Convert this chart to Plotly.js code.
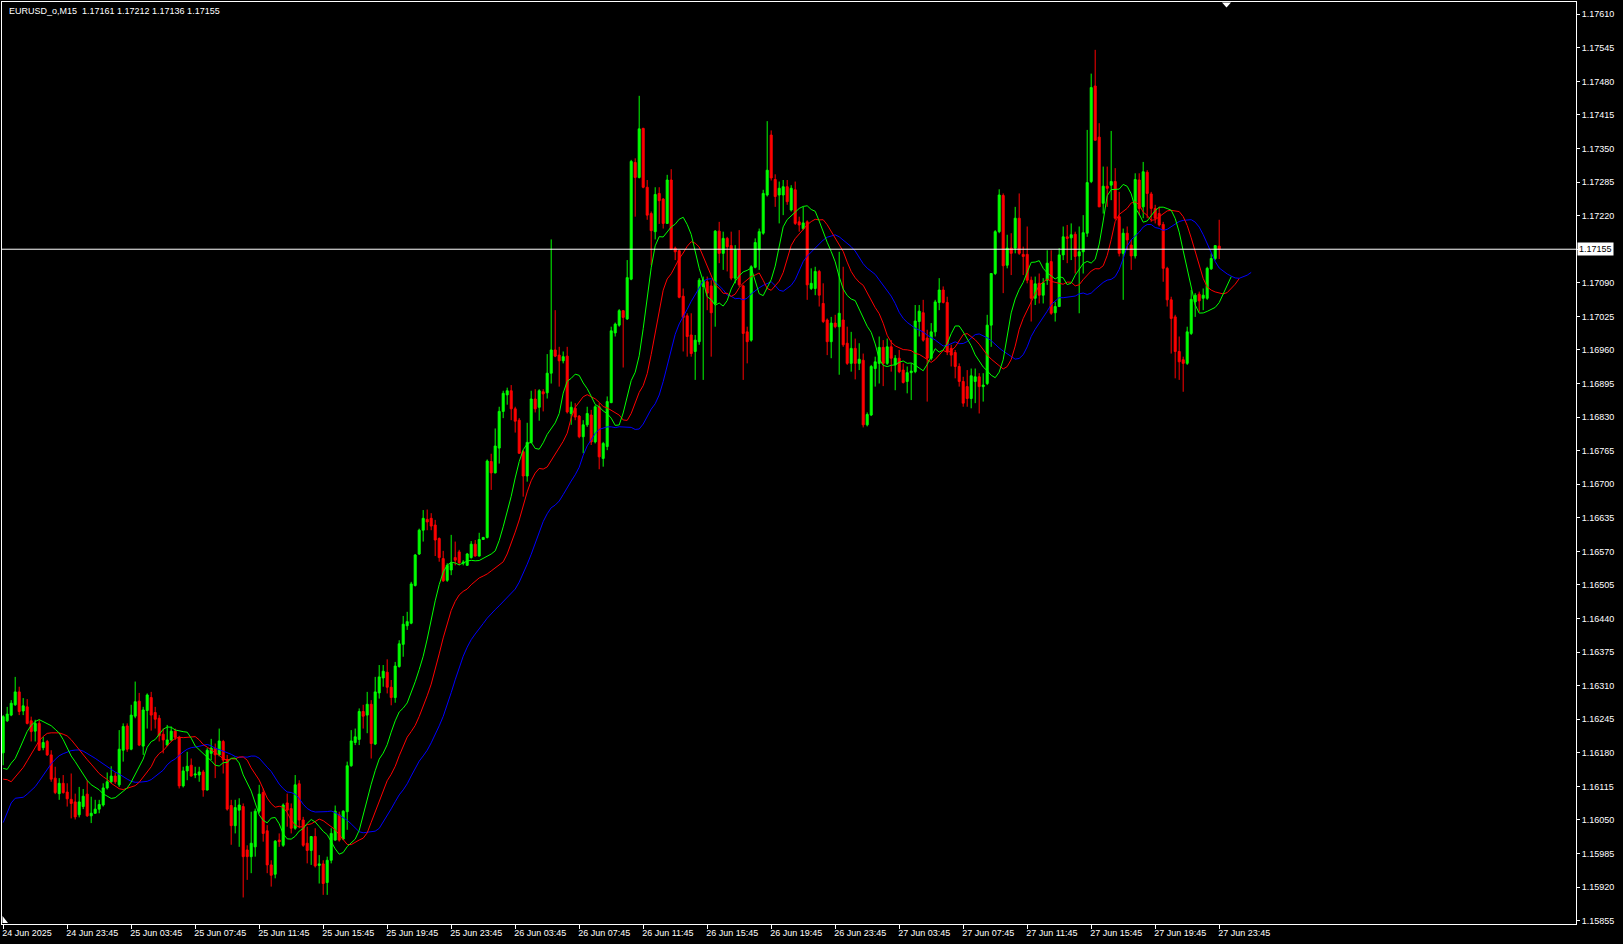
<!DOCTYPE html>
<html>
<head>
<meta charset="utf-8">
<script src="https://cdn.plot.ly/plotly-3.0.1.min.js"></script>
<style>
  html, body { margin:0; padding:0; background:#000; }
  #chart { width:1623px; height:944px; }
</style>
</head>
<body>
<div id="chart"></div>
<script>
// ---- Data (EURUSD M15, bars from 24 Jun 2025 19:45 to 27 Jun 2025 23:45) ----
const symbolTitle = "EURUSD_o,M15\u00A0 1.17161 1.17212 1.17136 1.17155";

const open = [
1.16180,1.16242,1.16253,1.16273,1.16298,1.16261,1.16269,1.16242,1.16222,1.16237,
1.16190,1.16202,1.16176,1.16131,1.16101,1.16121,1.16104,1.16090,1.16085,1.16060,
1.16076,1.16100,1.16058,1.16063,1.16071,1.16079,1.16112,1.16124,1.16135,1.16118,
1.16185,1.16232,1.16187,1.16251,1.16280,1.16193,1.16262,1.16287,1.16258,1.16247,
1.16216,1.16195,1.16205,1.16222,1.16210,1.16116,1.16145,1.16156,1.16137,1.16137,
1.16143,1.16108,1.16179,1.16189,1.16176,1.16202,1.16167,1.16078,1.16039,1.16069,
1.16076,1.15992,1.15979,1.15998,1.16067,1.16103,1.16029,1.15963,1.15945,1.16011,
1.16001,1.16083,1.16072,1.16034,1.16120,1.16050,1.16005,1.15991,1.16018,1.15962,
1.15965,1.15929,1.15972,1.16011,1.16060,1.16013,1.16066,1.16155,1.16200,1.16206,
1.16260,1.16253,1.16274,1.16197,1.16296,1.16325,1.16336,1.16307,1.16287,1.16347,
1.16390,1.16426,1.16431,1.16504,1.16565,1.16611,1.16632,1.16634,1.16621,1.16595,
1.16556,1.16514,1.16534,1.16558,1.16569,1.16547,1.16543,1.16558,1.16584,1.16561,
1.16593,1.16597,1.16744,1.16722,1.16770,1.16841,1.16873,1.16881,1.16846,1.16824,
1.16763,1.16716,1.16781,1.16865,1.16849,1.16879,1.16877,1.16915,1.16960,1.16950,
1.16939,1.16948,1.16837,1.16847,1.16832,1.16792,1.16815,1.16834,1.16782,1.16850,
1.16750,1.16773,1.16858,1.16993,1.17008,1.17036,1.17020,1.17097,1.17323,1.17294,
1.17389,1.17275,1.17224,1.17189,1.17263,1.17252,1.17205,1.17289,1.17157,1.17152,
1.17064,1.17026,1.16989,1.16957,1.16976,1.17083,1.17092,1.17084,1.17050,1.17190,
1.17147,1.17176,1.17162,1.17099,1.17154,1.17084,1.16995,1.16979,1.17120,1.17154,
1.17186,1.17260,1.17376,1.17290,1.17260,1.17260,1.17276,1.17231,1.17270,1.17208,
1.17195,1.17208,1.17079,1.17079,1.17112,1.17050,1.17018,1.16976,1.17012,1.17005,
1.17018,1.16973,1.16934,1.16963,1.16934,1.16940,1.16815,1.16834,1.16924,1.16934,
1.16965,1.16934,1.16966,1.16931,1.16944,1.16921,1.16899,1.16916,1.16918,1.17015,
1.17032,1.16983,1.16944,1.16995,1.17052,1.17076,1.17052,1.16963,1.16955,1.16928,
1.16899,1.16889,1.16866,1.16899,1.16908,1.16889,1.16895,1.17008,1.17108,1.17189,
1.17259,1.17124,1.17157,1.17157,1.17215,1.17145,1.17145,1.17095,1.17060,1.17089,
1.17066,1.17095,1.17131,1.17032,1.17044,1.17144,1.17179,1.17177,1.17184,1.17142,
1.17150,1.17186,1.17286,1.17471,1.17372,1.17244,1.17277,1.17279,1.17286,1.17218,
1.17147,1.17186,1.17163,1.17142,1.17289,1.17237,1.17304,1.17262,1.17234,1.17224,
1.17203,1.17118,1.17057,1.17024,1.16957,1.16941,1.16934,1.16992,1.17053,1.17068,
1.17060,1.17060,1.17117,1.17137,1.17161
];

const high = [
1.16253,1.16269,1.16282,1.16327,1.16308,1.16286,1.16284,1.16250,1.16244,1.16244,
1.16211,1.16205,1.16185,1.16153,1.16131,1.16137,1.16121,1.16140,1.16101,1.16114,
1.16110,1.16127,1.16095,1.16089,1.16089,1.16121,1.16142,1.16154,1.16142,1.16224,
1.16237,1.16237,1.16273,1.16318,1.16296,1.16269,1.16295,1.16298,1.16269,1.16253,
1.16227,1.16234,1.16231,1.16227,1.16213,1.16153,1.16182,1.16169,1.16153,1.16153,
1.16147,1.16189,1.16207,1.16198,1.16227,1.16205,1.16176,1.16089,1.16089,1.16092,
1.16082,1.16001,1.16066,1.16072,1.16118,1.16111,1.16040,1.15972,1.16011,1.16024,
1.16082,1.16101,1.16082,1.16137,1.16127,1.16056,1.16037,1.16019,1.16034,1.15982,
1.15972,1.15979,1.16034,1.16078,1.16066,1.16069,1.16163,1.16224,1.16227,1.16266,
1.16273,1.16298,1.16282,1.16327,1.16350,1.16350,1.16361,1.16321,1.16356,1.16398,
1.16445,1.16453,1.16511,1.16565,1.16614,1.16650,1.16651,1.16644,1.16631,1.16597,
1.16571,1.16547,1.16602,1.16589,1.16573,1.16553,1.16567,1.16590,1.16592,1.16606,
1.16598,1.16748,1.16759,1.16808,1.16850,1.16881,1.16887,1.16892,1.16850,1.16828,
1.16766,1.16819,1.16881,1.16884,1.16884,1.16884,1.16952,1.17174,1.17037,1.16966,
1.16957,1.16966,1.16860,1.16857,1.16834,1.16824,1.16850,1.16844,1.16853,1.16857,
1.16782,1.16870,1.17005,1.17013,1.17039,1.17037,1.17134,1.17328,1.17331,1.17452,
1.17390,1.17289,1.17228,1.17275,1.17275,1.17254,1.17299,1.17310,1.17160,1.17154,
1.17079,1.17031,1.17031,1.16989,1.17099,1.17102,1.17102,1.17095,1.17192,1.17208,
1.17189,1.17179,1.17189,1.17163,1.17192,1.17086,1.17005,1.17124,1.17176,1.17195,
1.17270,1.17403,1.17385,1.17300,1.17286,1.17289,1.17289,1.17279,1.17286,1.17218,
1.17237,1.17211,1.17118,1.17121,1.17115,1.17089,1.17021,1.17024,1.17028,1.17150,
1.17121,1.17005,1.16995,1.16982,1.16973,1.16953,1.16839,1.16931,1.16947,1.16986,
1.16979,1.16982,1.16979,1.16950,1.16960,1.16934,1.16928,1.16934,1.17047,1.17047,
1.17057,1.16999,1.17012,1.17057,1.17099,1.17083,1.17063,1.16970,1.16960,1.16934,
1.16908,1.16921,1.16924,1.16924,1.16915,1.16915,1.17028,1.17108,1.17192,1.17271,
1.17263,1.17183,1.17186,1.17237,1.17263,1.17160,1.17199,1.17102,1.17102,1.17108,
1.17099,1.17153,1.17153,1.17053,1.17157,1.17199,1.17202,1.17205,1.17189,1.17199,
1.17221,1.17386,1.17495,1.17541,1.17399,1.17315,1.17315,1.17384,1.17312,1.17266,
1.17195,1.17199,1.17173,1.17302,1.17302,1.17324,1.17308,1.17266,1.17241,1.17237,
1.17208,1.17121,1.17063,1.17028,1.16986,1.16947,1.17005,1.17076,1.17070,1.17073,
1.17079,1.17121,1.17147,1.17163,1.17212
];

const low = [
1.16156,1.16240,1.16251,1.16271,1.16253,1.16253,1.16235,1.16202,1.16202,1.16184,
1.16185,1.16174,1.16124,1.16100,1.16089,1.16101,1.16076,1.16053,1.16051,1.16055,
1.16071,1.16056,1.16044,1.16062,1.16063,1.16076,1.16109,1.16121,1.16120,1.16114,
1.16163,1.16182,1.16185,1.16247,1.16193,1.16176,1.16227,1.16223,1.16227,1.16202,
1.16179,1.16193,1.16202,1.16205,1.16111,1.16113,1.16127,1.16134,1.16131,1.16124,
1.16095,1.16107,1.16166,1.16131,1.16173,1.16140,1.16068,1.16002,1.16024,1.15998,
1.15900,1.15934,1.15947,1.15979,1.16063,1.16008,1.15947,1.15921,1.15937,1.15998,
1.15998,1.16037,1.16024,1.16031,1.16034,1.15998,1.15966,1.15963,1.15958,1.15927,
1.15905,1.15905,1.15966,1.16010,1.16008,1.16011,1.16031,1.16153,1.16195,1.16195,
1.16227,1.16218,1.16169,1.16195,1.16285,1.16308,1.16295,1.16272,1.16277,1.16345,
1.16366,1.16418,1.16429,1.16502,1.16563,1.16589,1.16611,1.16611,1.16561,1.16550,
1.16511,1.16511,1.16524,1.16543,1.16543,1.16543,1.16542,1.16556,1.16560,1.16560,
1.16592,1.16595,1.16689,1.16721,1.16740,1.16828,1.16854,1.16824,1.16800,1.16759,
1.16676,1.16705,1.16779,1.16839,1.16823,1.16841,1.16866,1.16895,1.16946,1.16889,
1.16934,1.16837,1.16815,1.16824,1.16789,1.16760,1.16811,1.16776,1.16779,1.16729,
1.16734,1.16766,1.16857,1.16986,1.17005,1.16926,1.17018,1.17095,1.17218,1.17292,
1.17273,1.17212,1.17124,1.17174,1.17204,1.17195,1.17204,1.17154,1.17134,1.17060,
1.16957,1.16947,1.16947,1.16902,1.16970,1.16902,1.17037,1.16947,1.17005,1.17128,
1.17115,1.17112,1.17095,1.17089,1.17082,1.16902,1.16934,1.16976,1.17118,1.17115,
1.17183,1.17257,1.17288,1.17237,1.17205,1.17221,1.17241,1.17228,1.17202,1.17189,
1.17192,1.17057,1.17076,1.17066,1.17044,1.17012,1.16950,1.16944,1.17002,1.16912,
1.16966,1.16931,1.16918,1.16903,1.16921,1.16810,1.16812,1.16832,1.16889,1.16895,
1.16890,1.16931,1.16918,1.16882,1.16915,1.16895,1.16876,1.16863,1.16915,1.16986,
1.16976,1.16860,1.16940,1.16986,1.17037,1.17050,1.16950,1.16928,1.16905,1.16889,
1.16850,1.16850,1.16847,1.16857,1.16837,1.16860,1.16892,1.16966,1.17105,1.17186,
1.17070,1.17118,1.17105,1.17147,1.17144,1.17105,1.17089,1.17015,1.17047,1.17050,
1.17050,1.17086,1.17028,1.17015,1.17044,1.17134,1.17128,1.17134,1.17108,1.17031,
1.17108,1.17179,1.17283,1.17366,1.17237,1.17224,1.17237,1.17250,1.17212,1.17141,
1.17057,1.17153,1.17115,1.17137,1.17221,1.17215,1.17215,1.17208,1.17205,1.17199,
1.17092,1.17044,1.16953,1.16905,1.16902,1.16879,1.16931,1.16989,1.17024,1.17034,
1.17037,1.17057,1.17115,1.17134,1.17136
];

const close = [
1.16250,1.16255,1.16276,1.16298,1.16260,1.16271,1.16237,1.16221,1.16237,1.16185,
1.16200,1.16176,1.16129,1.16103,1.16121,1.16103,1.16091,1.16082,1.16056,1.16085,
1.16096,1.16058,1.16063,1.16071,1.16080,1.16112,1.16124,1.16135,1.16124,1.16187,
1.16231,1.16187,1.16253,1.16279,1.16195,1.16263,1.16292,1.16253,1.16245,1.16213,
1.16205,1.16205,1.16222,1.16210,1.16116,1.16145,1.16154,1.16135,1.16139,1.16143,
1.16108,1.16185,1.16189,1.16176,1.16203,1.16166,1.16071,1.16039,1.16074,1.16079,
1.15979,1.15979,1.16005,1.16067,1.16100,1.16024,1.15963,1.15943,1.16009,1.16008,
1.16079,1.16069,1.16034,1.16118,1.16050,1.16001,1.15991,1.16018,1.15961,1.15965,
1.15927,1.15972,1.16024,1.16067,1.16011,1.16067,1.16155,1.16203,1.16211,1.16260,
1.16251,1.16274,1.16198,1.16298,1.16327,1.16338,1.16307,1.16287,1.16348,1.16391,
1.16429,1.16434,1.16507,1.16563,1.16611,1.16634,1.16627,1.16619,1.16592,1.16558,
1.16513,1.16543,1.16547,1.16553,1.16548,1.16549,1.16565,1.16584,1.16561,1.16593,
1.16597,1.16745,1.16722,1.16774,1.16841,1.16876,1.16881,1.16846,1.16822,1.16760,
1.16716,1.16781,1.16865,1.16846,1.16881,1.16875,1.16915,1.16960,1.16948,1.16939,
1.16947,1.16840,1.16849,1.16830,1.16792,1.16815,1.16837,1.16782,1.16850,1.16753,
1.16779,1.16860,1.16997,1.17010,1.17036,1.17023,1.17100,1.17325,1.17294,1.17388,
1.17275,1.17221,1.17191,1.17261,1.17249,1.17205,1.17289,1.17155,1.17150,1.17062,
1.17023,1.16986,1.16953,1.16979,1.17095,1.17095,1.17070,1.17032,1.17190,1.17147,
1.17176,1.17160,1.17099,1.17154,1.17086,1.16992,1.16976,1.17121,1.17168,1.17189,
1.17263,1.17308,1.17293,1.17257,1.17273,1.17276,1.17247,1.17273,1.17205,1.17202,
1.17206,1.17086,1.17089,1.17112,1.17066,1.17015,1.16976,1.17012,1.17005,1.17031,
1.16970,1.16934,1.16963,1.16934,1.16942,1.16815,1.16835,1.16928,1.16937,1.16965,
1.16934,1.16966,1.16944,1.16944,1.16918,1.16897,1.16916,1.16919,1.17016,1.17035,
1.16979,1.16944,1.16995,1.17053,1.17076,1.17052,1.16957,1.16950,1.16928,1.16899,
1.16857,1.16866,1.16910,1.16908,1.16889,1.16892,1.17008,1.17108,1.17189,1.17260,
1.17123,1.17157,1.17147,1.17215,1.17147,1.17141,1.17095,1.17060,1.17088,1.17066,
1.17090,1.17128,1.17031,1.17044,1.17144,1.17179,1.17176,1.17183,1.17141,1.17150,
1.17187,1.17284,1.17468,1.17366,1.17237,1.17277,1.17273,1.17286,1.17215,1.17147,
1.17186,1.17173,1.17142,1.17290,1.17234,1.17305,1.17263,1.17234,1.17215,1.17202,
1.17118,1.17057,1.17021,1.16957,1.16937,1.16934,1.16995,1.17058,1.17066,1.17055,
1.17066,1.17118,1.17137,1.17162,1.17155
];

// Alligator values already on screen at the left edge (before the first bar's own value)
const jawHead   = [1.16045, 1.16066, 1.16083, 1.16092, 1.16093, 1.16094, 1.16100, 1.16107];
const teethHead = [1.16129, 1.16128, 1.16124, 1.16133, 1.16144];
const lipsHead  = [1.16150, 1.16148, 1.16160];

const xTickVals = [0,16,32,48,64,80,96,112,128,144,160,176,192,208,224,240,256,272,288,304];
const xTickLabels = [
 "24 Jun 2025","24 Jun 23:45","25 Jun 03:45","25 Jun 07:45","25 Jun 11:45",
 "25 Jun 15:45","25 Jun 19:45","25 Jun 23:45","26 Jun 03:45","26 Jun 07:45",
 "26 Jun 11:45","26 Jun 15:45","26 Jun 19:45","26 Jun 23:45","27 Jun 03:45",
 "27 Jun 07:45","27 Jun 11:45","27 Jun 15:45","27 Jun 19:45","27 Jun 23:45"
];
const yTickVals = [
 1.15855,1.15920,1.15985,1.16050,1.16115,1.16180,1.16245,1.16310,1.16375,1.16440,
 1.16505,1.16570,1.16635,1.16700,1.16765,1.16830,1.16895,1.16960,1.17025,1.17090,
 1.17155,1.17220,1.17285,1.17350,1.17415,1.17480,1.17545,1.17610
];

// ---- Build ----
const n = open.length;
const idx = open.map((_, i) => i);

function smmaLine(period, shift, head) {
  const xs = [], ys = [];
  head.forEach((v, k) => { xs.push(k); ys.push(v); });
  let s = head[head.length - 1];
  for (let i = 0; i < n; i++) {
    const m = (high[i] + low[i]) / 2;
    s = (s * (period - 1) + m) / period;
    xs.push(i + shift); ys.push(s);
  }
  return { xs, ys };
}
const jaw = smmaLine(13, 8, jawHead);
const teeth = smmaLine(8, 5, teethHead);
const lips = smmaLine(5, 3, lipsHead);

const lastClose = close[n - 1];
// the scale value equal to the last price is shown only inside the price box
const yTickText = yTickVals.map(v => Math.abs(v - lastClose) < 1e-7 ? '' : v.toFixed(5));

const traces = [
  {
    type: 'candlestick', x: idx, open: open, high: high, low: low, close: close,
    increasing: { line: { color: '#00FF00', width: 1 }, fillcolor: '#00FF00' },
    decreasing: { line: { color: '#FF0000', width: 1 }, fillcolor: '#FF0000' },
    whiskerwidth: 0, hoverinfo: 'skip', showlegend: false
  },
  { type: 'scatter', mode: 'lines', x: jaw.xs, y: jaw.ys, line: { color: '#0000FF', width: 1 }, hoverinfo: 'skip' },
  { type: 'scatter', mode: 'lines', x: teeth.xs, y: teeth.ys, line: { color: '#FF0000', width: 1 }, hoverinfo: 'skip' },
  { type: 'scatter', mode: 'lines', x: lips.xs, y: lips.ys, line: { color: '#00FF00', width: 1 }, hoverinfo: 'skip' }
];

const W = 1623, H = 944, ML = 2, MR = 47, MT = 2, MB = 20;
const pw = W - ML - MR, ph = H - MT - MB;
function px(x) { return (x - ML) / pw; }
function py(y) { return 1 - (y - MT) / ph; }

const layout = {
  width: W, height: H,
  paper_bgcolor: '#000000', plot_bgcolor: '#000000',
  margin: { l: ML, r: MR, t: MT, b: MB, pad: 0 },
  showlegend: false,
  font: { family: 'Liberation Sans, Arial, sans-serif', size: 9, color: '#ffffff' },
  boxgap: 0.5, boxgroupgap: 0,
  xaxis: {
    range: [-0.3, 393.2], showgrid: false, zeroline: false,
    showline: true, mirror: true, linecolor: '#ffffff', linewidth: 1,
    ticks: 'outside', ticklen: 4, tickwidth: 1, tickcolor: '#ffffff',
    tickvals: xTickVals, ticktext: xTickLabels, ticklabelposition: 'outside right',
    ticklabelshift: -2,
    tickfont: { size: 9, color: '#ffffff' },
    rangeslider: { visible: false }, fixedrange: true, automargin: false
  },
  yaxis: {
    range: [1.1584861, 1.1763363], side: 'right', showgrid: false, zeroline: false,
    showline: true, mirror: true, linecolor: '#ffffff', linewidth: 1,
    ticks: 'outside', ticklen: 3, tickwidth: 1, tickcolor: '#ffffff',
    tickvals: yTickVals, ticktext: yTickText, tickfont: { size: 9, color: '#ffffff' },
    fixedrange: true, automargin: false
  },
  shapes: [
    { type: 'line', xref: 'paper', yref: 'y', x0: 0, x1: 1, y0: lastClose, y1: lastClose,
      line: { color: '#ffffff', width: 1 } },
    { type: 'path', xref: 'paper', yref: 'paper',
      path: `M ${px(1222)} ${py(2.5)} L ${px(1231)} ${py(2.5)} L ${px(1226.5)} ${py(7.5)} Z`,
      fillcolor: '#ffffff', line: { color: '#ffffff', width: 0 } },
    { type: 'path', xref: 'paper', yref: 'paper',
      path: `M ${px(2.5)} ${py(916)} L ${px(2.5)} ${py(923)} L ${px(8)} ${py(923)} Z`,
      fillcolor: '#ffffff', line: { color: '#ffffff', width: 0 } }
  ],
  annotations: [
    { xref: 'paper', yref: 'paper', x: px(7), y: py(11), xanchor: 'left', yanchor: 'middle',
      text: symbolTitle, showarrow: false, font: { size: 9, color: '#ffffff' } },
    { xref: 'paper', yref: 'y', x: 1, y: lastClose, xanchor: 'left', yanchor: 'middle', xshift: 1,
      text: lastClose.toFixed(5), showarrow: false, bgcolor: '#ffffff', borderpad: 1,
      font: { size: 9, color: '#000000' } }
  ]
};

Plotly.newPlot('chart', traces, layout, { staticPlot: true, displayModeBar: false });
</script>
</body>
</html>
